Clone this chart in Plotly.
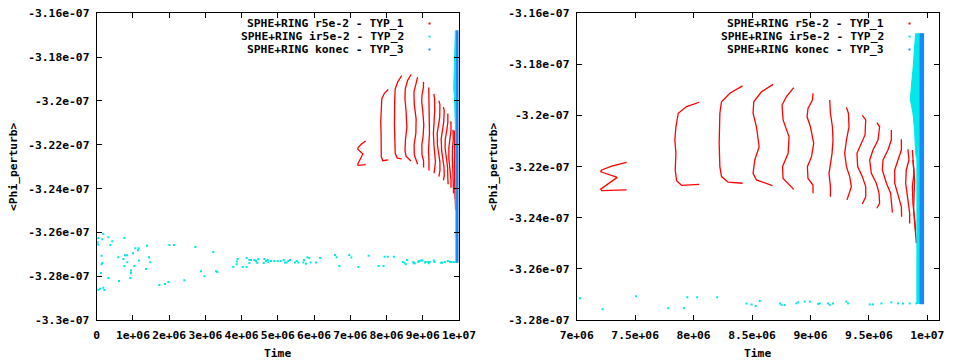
import plotly.graph_objects as go

# ---------------- data ----------------
series_names = ["SPHE+RING r5e-2 - TYP_1", "SPHE+RING ir5e-2 - TYP_2", "SPHE+RING konec - TYP_3"]
series_colors = ["#ff0000", "#00e8e8", "#1c86ff"]

# TYP_1: traces of consecutive outputs (one list per visible arc)
red_arcs_x = [
    [7.427e6, 7.300e6, 7.214e6, 7.205e6, 7.347e6, 7.205e6, 7.214e6, 7.300e6, 7.427e6],
    [8.048e6, 7.940e6, 7.869e6, 7.849e6, 7.840e6, 7.849e6, 7.843e6, 7.855e6, 7.897e6, 8.048e6],
    [8.419e6, 8.310e6, 8.239e6, 8.225e6, 8.219e6, 8.225e6, 8.239e6, 8.296e6, 8.419e6],
    [8.680e6, 8.581e6, 8.515e6, 8.509e6, 8.538e6, 8.561e6, 8.524e6, 8.509e6, 8.538e6, 8.675e6],
    [8.857e6, 8.795e6, 8.757e6, 8.766e6, 8.817e6, 8.809e6, 8.761e6, 8.766e6, 8.857e6],
    [9.022e6, 9.017e6, 8.979e6, 8.971e6, 9.000e6, 9.028e6, 9.009e6, 8.974e6, 8.979e6, 9.022e6, 9.022e6],
    [9.165e6, 9.171e6, 9.188e6, 9.193e6, 9.185e6, 9.171e6, 9.159e6, 9.171e6, 9.171e6],
    [9.308e6, 9.325e6, 9.330e6, 9.308e6, 9.293e6, 9.308e6, 9.336e6, 9.350e6, 9.313e6],
    [9.444e6, 9.473e6, 9.467e6, 9.421e6, 9.398e6, 9.404e6, 9.444e6, 9.473e6, 9.473e6, 9.444e6],
    [9.569e6, 9.592e6, 9.578e6, 9.535e6, 9.507e6, 9.521e6, 9.564e6, 9.587e6, 9.592e6, 9.569e6],
    [9.692e6, 9.692e6, 9.663e6, 9.621e6, 9.615e6, 9.650e6, 9.686e6, 9.692e6, 9.701e6],
    [9.778e6, 9.778e6, 9.749e6, 9.721e6, 9.721e6, 9.757e6, 9.778e6, 9.780e6],
    [9.834e6, 9.843e6, 9.820e6, 9.815e6, 9.834e6, 9.849e6, 9.849e6],
    [9.877e6, 9.886e6, 9.872e6, 9.877e6, 9.892e6, 9.900e6],
    [9.872e6, 9.891e6, 9.883e6, 9.906e6],
]
red_arcs_y = [
    [-3.2183e-7, -3.2198e-7, -3.2213e-7, -3.2220e-7, -3.2242e-7, -3.2288e-7, -3.2294e-7, -3.2293e-7, -3.2291e-7],
    [-3.1948e-7, -3.1965e-7, -3.1991e-7, -3.2044e-7, -3.2096e-7, -3.2148e-7, -3.2213e-7, -3.2255e-7, -3.2273e-7, -3.2269e-7],
    [-3.1884e-7, -3.1913e-7, -3.1946e-7, -3.1991e-7, -3.2109e-7, -3.2200e-7, -3.2239e-7, -3.2261e-7, -3.2265e-7],
    [-3.1878e-7, -3.1907e-7, -3.1946e-7, -3.1991e-7, -3.2044e-7, -3.2122e-7, -3.2174e-7, -3.2226e-7, -3.2252e-7, -3.2274e-7],
    [-3.1891e-7, -3.1926e-7, -3.1959e-7, -3.2017e-7, -3.2083e-7, -3.2148e-7, -3.2200e-7, -3.2246e-7, -3.2289e-7],
    [-3.1913e-7, -3.1939e-7, -3.1972e-7, -3.2005e-7, -3.2044e-7, -3.2109e-7, -3.2161e-7, -3.2200e-7, -3.2246e-7, -3.2272e-7, -3.2304e-7],
    [-3.1939e-7, -3.1991e-7, -3.2044e-7, -3.2096e-7, -3.2148e-7, -3.2187e-7, -3.2226e-7, -3.2278e-7, -3.2318e-7],
    [-3.1968e-7, -3.1991e-7, -3.2044e-7, -3.2096e-7, -3.2148e-7, -3.2200e-7, -3.2239e-7, -3.2278e-7, -3.2330e-7],
    [-3.1999e-7, -3.2017e-7, -3.2076e-7, -3.2122e-7, -3.2148e-7, -3.2200e-7, -3.2239e-7, -3.2278e-7, -3.2318e-7, -3.2346e-7],
    [-3.2028e-7, -3.2044e-7, -3.2096e-7, -3.2135e-7, -3.2174e-7, -3.2226e-7, -3.2265e-7, -3.2304e-7, -3.2343e-7, -3.2363e-7],
    [-3.2057e-7, -3.2096e-7, -3.2135e-7, -3.2174e-7, -3.2213e-7, -3.2265e-7, -3.2304e-7, -3.2357e-7, -3.2380e-7],
    [-3.2093e-7, -3.2135e-7, -3.2174e-7, -3.2213e-7, -3.2265e-7, -3.2318e-7, -3.2357e-7, -3.2396e-7],
    [-3.2132e-7, -3.2174e-7, -3.2213e-7, -3.2265e-7, -3.2330e-7, -3.2382e-7, -3.2422e-7],
    [-3.2174e-7, -3.2226e-7, -3.2278e-7, -3.2343e-7, -3.2409e-7, -3.2448e-7],
    [-3.2135e-7, -3.2252e-7, -3.2370e-7, -3.2499e-7],
]

# TYP_2: scattered outputs along the bottom
cyan_x = [
    0.045e6, 0.183e6, 0.155e6, 0.321e6, 0.431e6, 0.027e6, 0.045e6, 0.376e6, 0.763e6, 0.137e6,
    0.155e6, 0.137e6, 0.597e6, 0.781e6, 0.836e6, 0.735e6, 0.845e6, 0.763e6, 1.039e6, 1.168e6,
    1.066e6, 1.158e6, 1.140e6, 1.002e6, 1.388e6, 1.444e6, 1.480e6, 1.361e6, 0.947e6, 0.947e6,
    0.928e6, 0.321e6, 0.616e6, 0.119e6, 0.045e6, 0.091e6, 0.183e6, 0.211e6, 1.729e6, 1.885e6,
    1.977e6, 2.005e6, 2.134e6, 2.419e6, 2.722e6, 2.879e6, 2.971e6, 3.219e6, 3.293e6, 3.330e6,
    3.771e6, 3.891e6, 3.872e6, 3.863e6, 4.029e6, 4.139e6, 4.139e6, 4.213e6, 4.259e6, 4.213e6,
    4.351e6, 4.397e6, 4.461e6, 4.434e6, 4.627e6, 4.609e6, 4.673e6, 4.720e6, 4.738e6, 4.811e6,
    4.903e6, 4.995e6, 5.078e6, 5.161e6,
    5.197e6, 5.243e6, 5.289e6, 5.335e6, 5.473e6, 5.519e6, 5.565e6, 5.703e6, 5.722e6, 5.777e6,
    5.814e6, 5.869e6, 5.906e6, 6.053e6, 6.163e6, 6.577e6, 6.623e6, 6.697e6, 6.973e6,
    7.028e6, 7.222e6, 7.507e6, 7.783e6, 7.917e6, 7.946e6, 8.031e6, 8.202e6, 8.453e6, 8.496e6,
    8.532e6, 8.567e6, 8.738e6, 8.752e6, 8.780e6, 8.880e6, 8.894e6, 8.951e6, 8.994e6, 9.065e6,
    9.080e6, 9.151e6, 9.165e6, 9.193e6, 9.307e6, 9.322e6, 9.507e6, 9.535e6, 9.607e6, 9.692e6,
    9.749e6, 9.792e6, 9.849e6, 9.906e6,
]
cyan_y = [
    -3.2626e-7, -3.2608e-7, -3.2631e-7, -3.2622e-7, -3.2641e-7, -3.2646e-7, -3.2657e-7, -3.2658e-7, -3.2626e-7, -3.2707e-7,
    -3.2740e-7, -3.2745e-7, -3.2713e-7, -3.2704e-7, -3.2704e-7, -3.2722e-7, -3.2736e-7, -3.2754e-7, -3.2754e-7, -3.2728e-7,
    -3.2673e-7, -3.2673e-7, -3.2682e-7, -3.2695e-7, -3.2661e-7, -3.2713e-7, -3.2736e-7, -3.2767e-7, -3.2774e-7, -3.2786e-7,
    -3.2808e-7, -3.2808e-7, -3.2822e-7, -3.2786e-7, -3.2862e-7, -3.2857e-7, -3.2853e-7, -3.2863e-7, -3.2840e-7, -3.2836e-7,
    -3.2827e-7, -3.2658e-7, -3.2658e-7, -3.2818e-7, -3.2667e-7, -3.2777e-7, -3.2800e-7, -3.2690e-7, -3.2777e-7, -3.2781e-7,
    -3.2758e-7, -3.2722e-7, -3.2733e-7, -3.2745e-7, -3.2758e-7, -3.2758e-7, -3.2717e-7, -3.2726e-7, -3.2726e-7, -3.2740e-7,
    -3.2726e-7, -3.2731e-7, -3.2722e-7, -3.2740e-7, -3.2722e-7, -3.2740e-7, -3.2731e-7, -3.2726e-7, -3.2736e-7, -3.2731e-7,
    -3.2731e-7, -3.2731e-7, -3.2731e-7, -3.2726e-7,
    -3.2737e-7, -3.2737e-7, -3.2731e-7, -3.2726e-7, -3.2737e-7, -3.2731e-7, -3.2737e-7, -3.2737e-7, -3.2726e-7, -3.2743e-7,
    -3.2713e-7, -3.2717e-7, -3.2737e-7, -3.2737e-7, -3.2717e-7, -3.2703e-7, -3.2713e-7, -3.2754e-7, -3.2703e-7,
    -3.2715e-7, -3.2758e-7, -3.2707e-7, -3.2754e-7, -3.2754e-7, -3.2711e-7, -3.2711e-7, -3.2711e-7, -3.2735e-7, -3.2739e-7,
    -3.2745e-7, -3.2726e-7, -3.2735e-7, -3.2741e-7, -3.2741e-7, -3.2735e-7, -3.2731e-7, -3.2728e-7, -3.2728e-7, -3.2737e-7,
    -3.2735e-7, -3.2735e-7, -3.2741e-7, -3.2735e-7, -3.2728e-7, -3.2735e-7, -3.2739e-7, -3.2739e-7, -3.2735e-7, -3.2731e-7,
    -3.2735e-7, -3.2735e-7, -3.2735e-7, -3.2735e-7,
]

# TYP_2: dense column of outputs near the end (left/right envelope per level)
cyan_col_y = [-3.1678e-7, -3.1756e-7, -3.1822e-7, -3.1887e-7, -3.1939e-7, -3.1991e-7, -3.2057e-7,
              -3.2148e-7, -3.2174e-7, -3.2565e-7, -3.2735e-7]
cyan_col_left = [9.900e6, 9.891e6, 9.877e6, 9.863e6, 9.855e6, 9.877e6, 9.891e6,
                 9.900e6, 9.911e6, 9.911e6, 9.911e6]
cyan_col_right = [9.940e6] * 11

# TYP_3: final column
blue_col_y = [-3.1678e-7, -3.2735e-7]
blue_col_left = [9.940e6, 9.940e6]
blue_col_right = [9.966e6, 9.966e6]

# axes
left_xticks = [0, 1e6, 2e6, 3e6, 4e6, 5e6, 6e6, 7e6, 8e6, 9e6, 1e7]
left_xlabels = ["0", "1e+06", "2e+06", "3e+06", "4e+06", "5e+06", "6e+06", "7e+06", "8e+06", "9e+06", "1e+07"]
left_yticks = [-3.16e-7, -3.18e-7, -3.2e-7, -3.22e-7, -3.24e-7, -3.26e-7, -3.28e-7, -3.3e-7]
left_ylabels = ["-3.16e-07", "-3.18e-07", "-3.2e-07", "-3.22e-07", "-3.24e-07", "-3.26e-07", "-3.28e-07", "-3.3e-07"]
right_xticks = [7e6, 7.5e6, 8e6, 8.5e6, 9e6, 9.5e6, 1e7]
right_xlabels = ["7e+06", "7.5e+06", "8e+06", "8.5e+06", "9e+06", "9.5e+06", "1e+07"]
right_yticks = [-3.16e-7, -3.18e-7, -3.2e-7, -3.22e-7, -3.24e-7, -3.26e-7, -3.28e-7]
right_ylabels = ["-3.16e-07", "-3.18e-07", "-3.2e-07", "-3.22e-07", "-3.24e-07", "-3.26e-07", "-3.28e-07"]
x_title = "Time"
y_title = "<Phi_perturb>"

# ---------------- figure ----------------
W, H = 960, 360
FONT = dict(family="DejaVu Sans Mono, Liberation Mono, monospace", size=11.3, color="black", weight="bold")


def b(s):
    return "<b>" + s.replace("<", "&lt;").replace(">", "&gt;") + "</b>"


red_x, red_y = [], []
for ax_, ay_ in zip(red_arcs_x, red_arcs_y):
    red_x += ax_ + [None]
    red_y += ay_ + [None]

fig = go.Figure()
for xa, ya in (("x", "y"), ("x2", "y2")):
    fig.add_trace(go.Scatter(x=red_x, y=red_y, mode="lines", line=dict(color=series_colors[0], width=1.3),
                             xaxis=xa, yaxis=ya, showlegend=False, hoverinfo="skip"))
    fig.add_trace(go.Scatter(x=cyan_x, y=cyan_y, mode="markers",
                             marker=dict(color=series_colors[1], size=2, symbol="square", line=dict(width=0)),
                             xaxis=xa, yaxis=ya, showlegend=False, hoverinfo="skip"))
    fig.add_trace(go.Scatter(x=cyan_col_left + cyan_col_right[::-1], y=cyan_col_y + cyan_col_y[::-1],
                             mode="lines", fill="toself", fillcolor=series_colors[1],
                             line=dict(color=series_colors[1], width=1),
                             xaxis=xa, yaxis=ya, showlegend=False, hoverinfo="skip"))
    fig.add_trace(go.Scatter(x=blue_col_left + blue_col_right[::-1], y=blue_col_y + blue_col_y[::-1],
                             mode="lines", fill="toself", fillcolor=series_colors[2],
                             line=dict(color=series_colors[2], width=1.5),
                             xaxis=xa, yaxis=ya, showlegend=False, hoverinfo="skip"))

axis_common = dict(showgrid=False, zeroline=False, showline=True, linecolor="black", linewidth=1,
                   ticks="inside", ticklen=5, tickcolor="black", mirror="allticks",
                   tickfont=FONT, tickmode="array", automargin=False, ticklabelstandoff=4)

ydom = [1 - 320 / H, 1 - 13.3 / H]
fig.update_layout(
    width=W, height=H, margin=dict(l=0, r=0, t=0, b=0, autoexpand=False),
    paper_bgcolor="white", plot_bgcolor="white", showlegend=False,
    xaxis=dict(domain=[96.7 / W, 459 / W], range=[0, 1e7], tickvals=left_xticks,
               ticktext=[b(t) for t in left_xlabels], anchor="y", tickangle=0, **axis_common),
    yaxis=dict(domain=ydom, range=[-3.3e-7, -3.16e-7], tickvals=left_yticks,
               ticktext=[b(t) for t in left_ylabels], anchor="x", **axis_common),
    xaxis2=dict(domain=[576.7 / W, 939 / W], range=[7e6, 1.01e7], tickvals=right_xticks,
                ticktext=[b(t) for t in right_xlabels], anchor="y2", tickangle=0, **axis_common),
    yaxis2=dict(domain=ydom, range=[-3.28e-7, -3.16e-7], tickvals=right_yticks,
                ticktext=[b(t) for t in right_ylabels], anchor="x2", **axis_common),
)

annotations = []
shapes = []
for off in (0, 480):
    annotations.append(dict(text=b(x_title), x=(off + 277.8) / W, y=1 - 353 / H, xref="paper", yref="paper",
                            xanchor="center", yanchor="middle", showarrow=False, font=FONT))
    annotations.append(dict(text=b(y_title), x=(off + 13) / W,
                            y=1 - 167 / H, xref="paper", yref="paper", textangle=-90,
                            xanchor="center", yanchor="middle", showarrow=False, font=FONT))
    for i, (name, col) in enumerate(zip(series_names, series_colors)):
        yy = 24 + 13 * i
        annotations.append(dict(text=b(name), x=(off + 405.5) / W, y=1 - yy / H, xref="paper", yref="paper",
                                xanchor="right", yanchor="middle", showarrow=False, font=FONT))
        shapes.append(dict(type="rect", xref="paper", yref="paper",
                           x0=(off + 428.5) / W, x1=(off + 430.5) / W,
                           y0=1 - (yy - 1.5) / H, y1=1 - (yy + 0.5) / H,
                           fillcolor=col, line=dict(width=0)))
fig.update_layout(annotations=annotations, shapes=shapes)

fig.write_html("out.html", config={"displayModeBar": False},
               post_script="document.body.style.margin='0';document.body.style.overflow='hidden';")
